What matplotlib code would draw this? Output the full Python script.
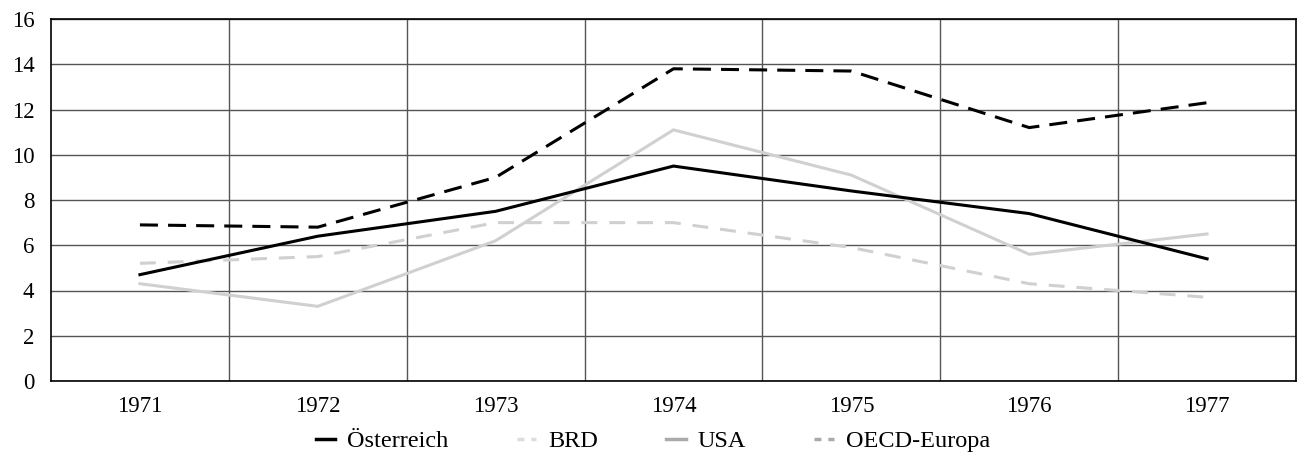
import numpy as np
import matplotlib.pyplot as plt
from matplotlib.lines import Line2D

# Inflation rates in %, 1971-1977
years = ["1971", "1972", "1973", "1974", "1975", "1976", "1977"]
oesterreich = [4.7, 6.4, 7.5, 9.5, 8.4, 7.4, 5.4]
brd = [5.2, 5.5, 7.0, 7.0, 5.9, 4.3, 3.7]
usa = [4.3, 3.3, 6.2, 11.1, 9.1, 5.6, 6.5]
oecd_europa = [6.9, 6.8, 9.0, 13.8, 13.7, 11.2, 12.3]

plt.rcParams['font.family'] = ['Liberation Serif', 'DejaVu Serif']

fig = plt.figure(figsize=(12.98, 4.61), dpi=100)
ax = fig.add_axes([51 / 1298, 1 - 381 / 461, (1296 - 51) / 1298, (381 - 19) / 461])

x = np.arange(len(years))
light = '#d0d0d0'
ax.plot(x, oecd_europa, color='black', lw=2.2, linestyle=(0, (5.9, 3.3)), zorder=3)
ax.plot(x, usa, color=light, lw=2.2, zorder=3)
ax.plot(x, brd, color=light, lw=2.2, linestyle=(0, (5.2, 3.9)), zorder=3)
ax.plot(x, oesterreich, color='black', lw=2.2, zorder=4)

ax.set_xlim(-0.5, len(years) - 0.5)
ax.set_ylim(0, 16)
ax.set_yticks(np.arange(0, 17, 2))
ax.set_xticks(x)
ax.set_xticklabels(years)
# vertical grid between categories
ax.set_xticks(np.arange(0.5, len(years) - 0.5), minor=True)
ax.grid(True, axis='y', which='major', color='#555555', lw=1.0)
ax.grid(True, axis='x', which='minor', color='#555555', lw=1.0)
ax.tick_params(which='both', length=0, labelsize=16.5)
ax.tick_params(axis='x', pad=10.5)
ax.tick_params(axis='y', pad=12)
for s in ax.spines.values():
    s.set_color('black')
    s.set_linewidth(1.2)

handles = [
    Line2D([], [], color='black', lw=2.5),
    Line2D([], [], color='#dddddd', lw=2.5, linestyle=(0, (2, 2))),
    Line2D([], [], color='#aaaaaa', lw=2.5),
    Line2D([], [], color='#aaaaaa', lw=2.5, linestyle=(0, (2, 2))),
]
fig.legend(handles, ['Österreich', 'BRD', 'USA', 'OECD-Europa'],
           loc='center', bbox_to_anchor=(0.503, 1 - 441 / 461), ncol=4,
           frameon=False, fontsize=17.5, handlelength=0.8, handletextpad=0.5,
           columnspacing=2.8)

fig.savefig('out.png', dpi=100)
